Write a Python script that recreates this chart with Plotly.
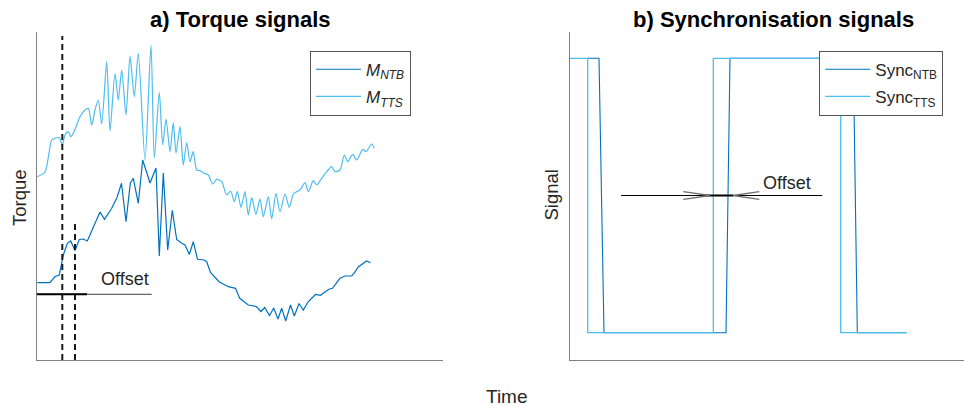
import plotly.graph_objects as go

# ---------------- data (arbitrary units) ----------------
# a) Torque signals
tts_time = [0.3, 8, 14.7, 18, 22.3, 25.3, 28, 31.3, 33.7, 37, 43, 48, 51.3, 54.7, 58, 61.3,
            64.7, 69.7, 73, 78, 81.3, 84.7, 89, 93, 97.3, 101.3, 108, 114, 117.3, 122.3,
            125.7, 129, 133, 136.3, 139, 143, 146.3, 149.7, 153, 156.3, 159.7, 163, 166.3,
            171.3, 175.7, 179.7, 184.7, 189.7, 193.7, 197.3, 200.3, 204, 208, 211.3, 214.7,
            219, 223, 226.3, 231.3, 234.7, 239, 243, 248, 252.3, 256.3, 259.7, 263, 268,
            271.3, 276.3, 279.7, 284.7, 289.7, 294.7, 298, 303, 307.3, 310.7, 315.7, 319.7,
            325.7, 329, 334.7, 337.3]
tts_torque = [183.3, 188, 220, 221.7, 222.3, 215, 225, 228.3, 223.3, 228.3, 243.3, 250, 251.7,
              235, 250, 260, 236, 298.3, 229, 286.7, 260, 290, 245, 304, 263.3, 306.7, 200,
              315, 202, 267.7, 215, 241, 208.3, 237.3, 207, 233.3, 195, 217.3, 198.3, 208.3,
              190, 189.5, 187, 185, 176, 180.7, 178.3, 165, 169, 158.3, 168.3, 152.7, 168.3,
              145, 162.3, 145.7, 161, 143.3, 163.3, 141, 166.7, 148.3, 166, 152.7, 166, 168.3,
              170, 177.3, 168.3, 179.3, 175, 181.7, 188.3, 193.3, 188.3, 190, 205, 198.3,
              205.7, 200, 210.7, 208.3, 216, 211.7]

ntb_time = [0.3, 13, 18, 22.3, 26.3, 30.3, 33.7, 38, 42.3, 46.3, 50.3, 56, 63, 67.5, 74.7,
            80, 84.5, 89, 93.3, 96.3, 101.3, 105.7, 113, 119, 122.3, 126.3, 130.7, 135.3,
            139.7, 144.7, 148, 152.3, 156.3, 160.5, 167, 169.7, 173.5, 182, 191.3, 198.5,
            202.7, 211.3, 219.3, 224, 227.7, 232.5, 236.7, 241, 244.7, 248.7, 253.5, 257.3,
            262, 266.3, 271, 278.5, 283.5, 291.3, 295.5, 303, 308, 314.7, 317, 321.3, 329.5,
            333.5]
ntb_torque = [77.3, 77.3, 83.5, 85, 105, 116.7, 119, 109.5, 120.5, 121, 119, 132.5, 148, 140.7,
              151.7, 162.5, 176.7, 138.3, 176.7, 181.7, 156.7, 200, 177, 192, 104, 187, 110,
              149.7, 120.5, 116.7, 115, 105.5, 118.3, 100.7, 100, 98.3, 87.5, 78.3, 73.3,
              71.7, 61.7, 55, 53.5, 48.5, 52.5, 44.5, 52, 41, 51.7, 39, 55, 44, 56.5, 50, 58,
              65.5, 64.7, 70.5, 71.7, 81.7, 84, 84.2, 86.7, 93, 99, 97.3]

marker_times = [25.3, 38]          # dashed markers
marker_tops = [324, 136.7]
offset_level_a = 65.7
offset_grey_span = [0, 114.7]
offset_black_span = [0, 50]
offset_label_a = (88, 80.7)

# b) Synchronisation signals
sync_ntb_time = [17.7, 29, 34, 156, 160, 283.3, 287.3, 336.7]
sync_ntb_val = [1, 1, 0, 0, 1, 1, 0, 0]
sync_tts_time = [0, 17.7, 17.7, 143.3, 143.3, 270.7, 270.7, 336.7]
sync_tts_val = [1, 1, 0, 0, 1, 1, 0, 0]

offset_level_b = 0.5
offset_line_b = [51, 252.3]
offset_thick_b = [131.7, 163.3]
arrow_left = {"tip": 140, "tail": 113.3}
arrow_right = {"tip": 163, "tail": 189.3}
arrow_spread = 0.014
offset_label_b = (217, 0.546)

# ---------------- figure ----------------
W, H = 964, 407
C_NTB = "rgb(0,114,189)"
C_TTS = "rgb(77,190,238)"
TXT = "#262626"
FONT = "Liberation Sans, Arial, Helvetica, sans-serif"

def px_x(p):
    return p / W

def px_y(p):
    return 1 - p / H

fig = go.Figure()

# left panel
fig.add_trace(go.Scatter(x=ntb_time, y=ntb_torque, mode="lines", name="<i>M</i><sub><i>NTB</i></sub>",
                         line=dict(color=C_NTB, width=1.2), xaxis="x", yaxis="y",
                         legend="legend", legendgroup="a1"))
fig.add_trace(go.Scatter(x=tts_time, y=tts_torque, mode="lines", name="<i>M</i><sub><i>TTS</i></sub>",
                         line=dict(color=C_TTS, width=1.2, shape="spline", smoothing=0.7),
                         xaxis="x", yaxis="y", legend="legend", legendgroup="a2"))
for t, top in zip(marker_times, marker_tops):
    fig.add_trace(go.Scatter(x=[t, t], y=[0, top], mode="lines", showlegend=False,
                             line=dict(color="#1a1a1a", width=2, dash="6px,4px"),
                             xaxis="x", yaxis="y", hoverinfo="skip"))
fig.add_trace(go.Scatter(x=offset_grey_span, y=[offset_level_a] * 2, mode="lines", showlegend=False,
                         line=dict(color="#666666", width=1.3), xaxis="x", yaxis="y", hoverinfo="skip"))
fig.add_trace(go.Scatter(x=offset_black_span, y=[offset_level_a] * 2, mode="lines", showlegend=False,
                         line=dict(color="#000000", width=2), xaxis="x", yaxis="y", hoverinfo="skip"))

# right panel
fig.add_trace(go.Scatter(x=sync_ntb_time, y=sync_ntb_val, mode="lines", name="Sync<sub>NTB</sub>",
                         line=dict(color=C_NTB, width=1.1), xaxis="x2", yaxis="y2",
                         legend="legend2", legendgroup="b1"))
fig.add_trace(go.Scatter(x=sync_tts_time, y=sync_tts_val, mode="lines", name="Sync<sub>TTS</sub>",
                         line=dict(color=C_TTS, width=1.3), xaxis="x2", yaxis="y2",
                         legend="legend2", legendgroup="b2"))
fig.add_trace(go.Scatter(x=offset_line_b, y=[offset_level_b] * 2, mode="lines", showlegend=False,
                         line=dict(color="#000000", width=1), xaxis="x2", yaxis="y2", hoverinfo="skip"))
fig.add_trace(go.Scatter(x=offset_thick_b, y=[offset_level_b] * 2, mode="lines", showlegend=False,
                         line=dict(color="#000000", width=2.2), xaxis="x2", yaxis="y2", hoverinfo="skip"))
for arr in (arrow_left, arrow_right):
    fig.add_trace(go.Scatter(
        x=[arr["tail"], arr["tip"], arr["tail"]],
        y=[offset_level_b + arrow_spread, offset_level_b, offset_level_b - arrow_spread],
        mode="lines", showlegend=False, line=dict(color="#707070", width=1.3),
        xaxis="x2", yaxis="y2", hoverinfo="skip"))

axis_common = dict(showline=True, linecolor="#808080", linewidth=1.2, showgrid=False,
                   zeroline=False, ticks="", showticklabels=False, mirror=False, fixedrange=True)

legend_common = dict(xanchor="left", yanchor="top", bgcolor="white", bordercolor="#555555",
                     borderwidth=1, font=dict(family=FONT, size=17, color=TXT),
                     itemwidth=45, tracegroupgap=2)

y_dom = [px_y(360), px_y(32)]
fig.update_layout(
    width=W, height=H, margin=dict(l=0, r=0, t=0, b=0),
    paper_bgcolor="white", plot_bgcolor="white",
    font=dict(family=FONT, color=TXT),
    xaxis=dict(domain=[px_x(37), px_x(442.7)], range=[0, 405.7], anchor="y", **axis_common),
    yaxis=dict(domain=y_dom, range=[0, 328], anchor="x", **axis_common),
    xaxis2=dict(domain=[px_x(570), 1.0], range=[0, 394], anchor="y2", **axis_common),
    yaxis2=dict(domain=y_dom, range=[-0.0995, 1.0958], anchor="x2", **axis_common),
    legend=dict(x=px_x(310), y=px_y(50.7), entrywidth=64, **legend_common),
    legend2=dict(x=px_x(819.3), y=px_y(50.7), entrywidth=92, **legend_common),
    showlegend=True,
)

annotations = [
    dict(text="<b>a) Torque signals</b>", x=px_x(240), y=px_y(20), font=dict(size=22, color="#000000")),
    dict(text="<b>b) Synchronisation signals</b>", x=px_x(773), y=px_y(20), font=dict(size=22, color="#000000")),
    dict(text="Torque", x=px_x(19), y=px_y(198), textangle=-90, font=dict(size=18.5)),
    dict(text="Signal", x=px_x(551), y=px_y(195.5), textangle=-90, font=dict(size=18.5)),
    dict(text="Time", x=px_x(506.7), y=px_y(396.7), font=dict(size=19)),
]
for a in annotations:
    a.update(xref="paper", yref="paper", showarrow=False, xanchor="center", yanchor="middle")
    fig.add_annotation(**a)

fig.add_annotation(text="Offset", x=offset_label_a[0], y=offset_label_a[1], xref="x", yref="y",
                   showarrow=False, font=dict(size=18), xanchor="center", yanchor="middle")
fig.add_annotation(text="Offset", x=offset_label_b[0], y=offset_label_b[1], xref="x2", yref="y2",
                   showarrow=False, font=dict(size=18), xanchor="center", yanchor="middle")

fig.write_html("out.html")
